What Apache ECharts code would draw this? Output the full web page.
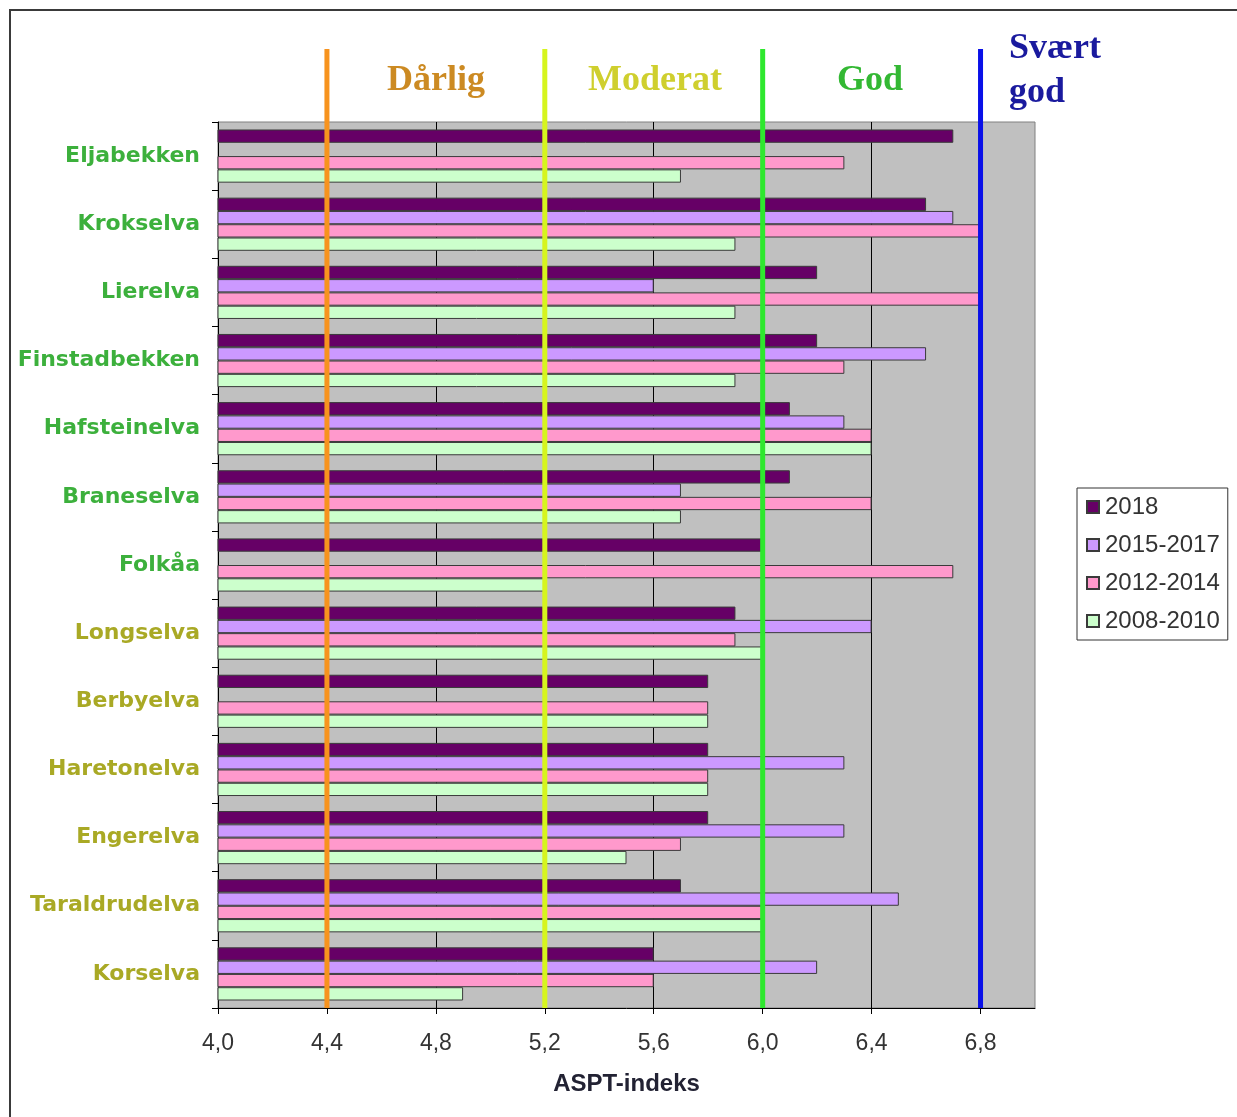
<!DOCTYPE html>
<html>
<head>
<meta charset="utf-8">
<style>
  html, body { margin: 0; padding: 0; background: #ffffff; }
  #chart { width: 1237px; height: 1117px; }
</style>
<script src="https://cdn.jsdelivr.net/npm/echarts@6/dist/echarts.min.js"></script>
</head>
<body>
<div id="chart"></div>
<script>
// Rivers, top to bottom
const rivers = ['Eljabekken', 'Krokselva', 'Lierelva', 'Finstadbekken', 'Hafsteinelva', 'Braneselva',
  'Folkåa', 'Longselva', 'Berbyelva', 'Haretonelva', 'Engerelva', 'Taraldrudelva', 'Korselva'];

// ASPT index per sampling period (null = not sampled)
const aspt2018 = [6.7, 6.6, 6.2, 6.2, 6.1, 6.1, 6.0, 5.9, 5.8, 5.8, 5.8, 5.7, 5.6];
const aspt2015_2017 = [null, 6.7, 5.6, 6.6, 6.3, 5.7, null, 6.4, null, 6.3, 6.3, 6.5, 6.2];
const aspt2012_2014 = [6.3, 6.8, 6.8, 6.3, 6.4, 6.4, 6.7, 5.9, 5.8, 5.8, 5.7, 6.0, 5.6];
const aspt2008_2010 = [5.7, 5.9, 5.9, 5.9, 6.4, 5.7, 5.2, 6.0, 5.8, 5.8, 5.5, 6.0, 4.9];

const periods = ['2018', '2015-2017', '2012-2014', '2008-2010'];

// Tick values of the index axis
const indexTicks = [4.0, 4.4, 4.8, 5.2, 5.6, 6.0, 6.4, 6.8];

// Class boundaries of the ASPT index
const classLimits = [4.4, 5.2, 6.0, 6.8];
const classNames = ['Dårlig', 'Moderat', 'God', 'Svært\ngod'];

// Rivers in the first group are labelled green, the rest olive
const greenRivers = 7;

const barColors = ['#660066', '#cc99ff', '#ff99cc', '#ccffcc'];
const limitColors = ['#f7931e', '#d6f51e', '#2ee82e', '#0a10e8'];
const classTextColors = ['#cc8a22', '#cfcf2e', '#33b833', '#1a1a9e'];

const chart = echarts.init(document.getElementById('chart'), null, { renderer: 'canvas' });

const gridBox = { left: 218, right: 202, top: 122, bottom: 109 };

const seriesData = [aspt2018, aspt2015_2017, aspt2012_2014, aspt2008_2010];

const barSeries = periods.map((name, i) => ({
  name: name,
  type: 'bar',
  xAxisIndex: 0,
  yAxisIndex: 0,
  data: seriesData[i],
  barGap: '0%',
  barCategoryGap: '22%',
  itemStyle: { color: barColors[i], borderColor: '#3a3a3a', borderWidth: 1 },
  emphasis: { disabled: true },
  z: 2
}));

// Vertical class-boundary lines, drawn in an overlay grid that reaches above the plot
const limitSeries = classLimits.map((v, i) => ({
  type: 'line',
  xAxisIndex: 1,
  yAxisIndex: 1,
  data: [[v, 0], [v, 1]],
  symbol: 'none',
  silent: true,
  lineStyle: { color: limitColors[i], width: 5 },
  z: 5
}));

// Class names centred between the boundary lines
const classGraphics = [
  { x: 436, y: 81, align: 'center' },
  { x: 655, y: 81, align: 'center' },
  { x: 870, y: 81, align: 'center' },
  { x: 1009, y: 71, align: 'left' }
].map((p, i) => ({
  type: 'text',
  x: p.x,
  y: p.y,
  silent: true,
  style: {
    text: classNames[i],
    fill: classTextColors[i],
    font: 'bold 36px "Liberation Serif", serif',
    align: p.align,
    verticalAlign: 'middle',
    lineHeight: 44
  }
}));

chart.setOption({
  animation: false,
  backgroundColor: '#ffffff',
  graphic: [
    {
      type: 'rect',
      silent: true,
      shape: { x: 10, y: 10, width: 1400, height: 1300 },
      style: { fill: null, stroke: '#3a3a3a', lineWidth: 2 }
    }
  ].concat(classGraphics),
  legend: {
    data: periods,
    orient: 'vertical',
    left: 1077,
    top: 488,
    padding: [7, 8, 7, 9],
    itemWidth: 12,
    itemHeight: 12,
    itemGap: 14,
    borderColor: '#333333',
    borderWidth: 1,
    backgroundColor: '#ffffff',
    icon: 'rect',
    selectedMode: false,
    textStyle: { fontFamily: '"Liberation Sans", Arial, sans-serif', fontSize: 24, color: '#333333', padding: [0, 0, 0, 1] }
  },
  grid: [
    Object.assign({ show: true, backgroundColor: '#c0c0c0', borderColor: '#808080', borderWidth: 1 }, gridBox),
    { left: gridBox.left, right: gridBox.right, top: 49, bottom: gridBox.bottom }
  ],
  xAxis: [
    {
      type: 'value',
      gridIndex: 0,
      min: 4,
      max: 7,
      interval: 0.4,
      name: 'ASPT-indeks',
      nameLocation: 'middle',
      nameGap: 64,
      nameTextStyle: { fontFamily: '"Liberation Sans", Arial, sans-serif', fontSize: 24, fontWeight: 'bold', color: '#222233' },
      axisLine: { show: true, lineStyle: { color: '#000000', width: 1 } },
      axisTick: { show: true, length: 6, customValues: indexTicks, lineStyle: { color: '#000000' } },
      axisLabel: {
        margin: 24,
        customValues: indexTicks,
        fontFamily: '"Liberation Sans", Arial, sans-serif',
        fontSize: 23,
        color: '#333333',
        formatter: v => v.toFixed(1).replace('.', ',')
      },
      splitLine: { show: true, lineStyle: { color: '#000000', width: 1 } }
    },
    {
      type: 'value',
      gridIndex: 1,
      min: 4,
      max: 7,
      show: false
    }
  ],
  yAxis: [
    {
      type: 'category',
      gridIndex: 0,
      data: rivers,
      inverse: true,
      axisLine: { show: true, lineStyle: { color: '#000000', width: 1 } },
      axisTick: { show: true, length: 6, lineStyle: { color: '#000000' } },
      splitLine: { show: false },
      axisLabel: {
        margin: 18,
        fontFamily: '"DejaVu Sans", Verdana, sans-serif',
        fontSize: 22,
        fontWeight: 'bold',
        color: (val, idx) => (idx < greenRivers ? '#3cb03c' : '#a9a925')
      }
    },
    {
      type: 'value',
      gridIndex: 1,
      min: 0,
      max: 1,
      show: false
    }
  ],
  series: barSeries.concat(limitSeries)
});
</script>
</body>
</html>
